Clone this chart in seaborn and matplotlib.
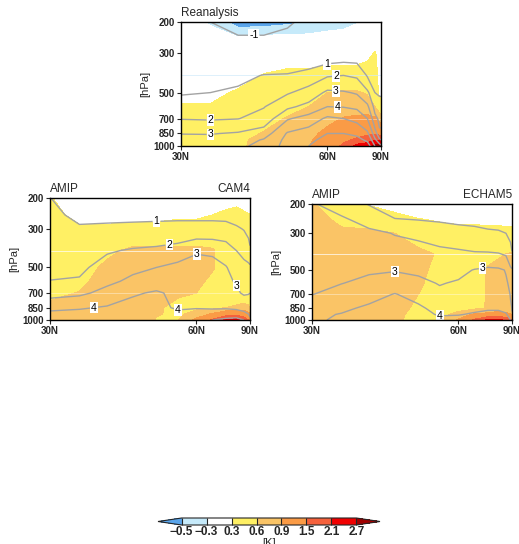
import numpy as np
import matplotlib
matplotlib.use("Agg")
import matplotlib.pyplot as plt
import seaborn as sns
from matplotlib.colors import ListedColormap, BoundaryNorm

sns.set_style("ticks")
plt.rcParams["font.family"] = ["Liberation Sans", "DejaVu Sans"]
plt.rcParams["axes.unicode_minus"] = True

# Grid: latitude (deg N) and pressure levels (hPa)
LAT = [30, 35, 40, 45, 50, 55, 60, 65, 70, 75, 80, 85, 90]
PLEV = [200, 250, 300, 400, 500, 600, 700, 850, 925, 1000]

# Shading levels [K] and colours
BOUNDS = [-0.5, -0.3, 0.3, 0.6, 0.9, 1.5, 2.1, 2.7]
FILL_COLORS = ["#c6eafa", "#ffffff", "#fff064", "#fac466", "#fa9b46", "#f5613c", "#f00000"]
UNDER_COLOR = "#5aa5eb"
OVER_COLOR = "#a00000"

# Each row: one latitude of LAT, values at PLEV
REA_SHADE = [
    [-0.10, 0.00, 0.05, 0.10, 0.20, 0.33, 0.40, 0.45, 0.45, 0.45],
    [-0.35, -0.10, 0.00, 0.10, 0.20, 0.33, 0.40, 0.45, 0.50, 0.50],
    [-0.60, -0.25, 0.00, 0.15, 0.35, 0.40, 0.45, 0.50, 0.55, 0.55],
    [-0.60, -0.20, 0.10, 0.32, 0.40, 0.45, 0.50, 0.62, 0.68, 0.70],
    [-0.55, -0.20, 0.10, 0.40, 0.45, 0.52, 0.62, 0.75, 0.80, 0.80],
    [-0.50, -0.20, 0.10, 0.40, 0.50, 0.60, 0.70, 0.80, 0.85, 0.88],
    [-0.45, -0.15, 0.15, 0.45, 0.60, 0.70, 0.80, 1.00, 1.10, 1.20],
    [-0.40, -0.15, 0.15, 0.45, 0.62, 0.75, 0.92, 1.20, 1.40, 1.60],
    [-0.32, -0.10, 0.15, 0.45, 0.62, 0.78, 0.95, 1.30, 1.60, 2.30],
    [-0.20, 0.00, 0.20, 0.50, 0.58, 0.70, 1.00, 1.40, 1.80, 2.50],
    [-0.10, 0.10, 0.33, 0.40, 0.40, 0.60, 0.95, 1.40, 2.00, 2.80],
    [0.00, 0.05, 0.15, 0.20, 0.25, 0.40, 0.80, 1.30, 2.10, 3.00],
    [0.00, 0.05, 0.10, 0.20, 0.25, 0.40, 0.70, 1.20, 2.00, 2.90],
]
REA_LINES = [
    [-0.8, -0.5, -0.2, 0.3, 0.9, 1.5, 1.95, 2.97, 3.3, 3.6],
    [-1.0, -0.6, -0.2, 0.4, 1.0, 1.5, 1.9, 2.95, 3.3, 3.6],
    [-1.3, -0.9, -0.3, 0.7, 1.2, 1.6, 1.97, 3.1, 3.5, 3.8],
    [-1.3, -0.9, -0.2, 1.05, 1.6, 1.95, 2.4, 3.5, 4.1, 4.3],
    [-1.1, -0.8, -0.1, 1.1, 1.9, 2.8, 3.9, 5.1, 5.3, 5.4],
    [-0.8, -0.5, 0.1, 1.4, 2.4, 3.3, 4.4, 5.5, 5.8, 6.0],
    [-0.5, -0.3, 0.3, 1.9, 3.2, 4.0, 5.2, 6.0, 6.3, 6.5],
    [-0.4, -0.2, 0.4, 2.0, 3.1, 3.95, 5.0, 6.0, 6.5, 6.8],
    [-0.3, -0.1, 0.4, 1.85, 2.9, 3.8, 4.7, 5.8, 6.3, 6.7],
    [-0.2, 0.0, 0.3, 0.9, 2.2, 3.2, 4.0, 5.2, 5.8, 6.5],
    [-0.1, 0.0, 0.2, 0.6, 1.0, 1.6, 2.3, 3.4, 4.2, 5.0],
    [0.0, 0.1, 0.2, 0.5, 0.9, 1.3, 1.7, 2.2, 3.2, 4.5],
    [0.0, 0.1, 0.2, 0.5, 0.9, 1.3, 1.7, 2.2, 3.0, 4.2],
]
CAM_SHADE = [
    [0.32, 0.40, 0.45, 0.45, 0.50, 0.50, 0.55, 0.65, 0.70, 0.70],
    [0.10, 0.20, 0.35, 0.45, 0.50, 0.55, 0.61, 0.70, 0.75, 0.75],
    [0.05, 0.20, 0.35, 0.55, 0.65, 0.70, 0.72, 0.75, 0.80, 0.80],
    [0.05, 0.20, 0.40, 0.65, 0.75, 0.80, 0.80, 0.80, 0.80, 0.80],
    [0.05, 0.20, 0.40, 0.65, 0.75, 0.75, 0.70, 0.65, 0.62, 0.58],
    [0.10, 0.25, 0.42, 0.65, 0.72, 0.70, 0.65, 0.50, 0.55, 0.58],
    [0.10, 0.25, 0.42, 0.65, 0.70, 0.65, 0.60, 0.55, 0.70, 1.00],
    [0.15, 0.30, 0.45, 0.62, 0.62, 0.55, 0.45, 0.50, 0.95, 1.60],
    [0.20, 0.35, 0.45, 0.50, 0.50, 0.45, 0.40, 0.60, 1.20, 2.20],
    [0.25, 0.35, 0.40, 0.45, 0.45, 0.40, 0.40, 0.65, 1.30, 2.30],
    [0.00, 0.40, 0.42, 0.42, 0.42, 0.40, 0.40, 0.70, 1.20, 1.80],
    [-0.32, 0.36, 0.38, 0.40, 0.40, 0.38, 0.38, 0.65, 1.00, 1.50],
    [-0.40, 0.35, 0.35, 0.38, 0.38, 0.35, 0.35, 0.60, 0.90, 1.30],
]
CAM_LINES = [
    [1.02, 1.2, 1.35, 1.6, 1.8, 2.02, 2.6, 3.8, 4.2, 4.4],
    [0.4, 0.8, 1.1, 1.5, 1.8, 2.1, 2.8, 3.9, 4.3, 4.5],
    [0.3, 0.8, 1.15, 1.9, 2.4, 2.8, 3.3, 4.1, 4.3, 4.5],
    [0.3, 0.8, 1.2, 2.1, 2.8, 3.2, 3.9, 4.3, 4.5, 4.7],
    [0.3, 0.8, 1.25, 2.2, 3.0, 3.6, 4.1, 4.2, 4.3, 4.4],
    [0.3, 0.8, 1.3, 2.4, 3.3, 3.7, 3.8, 3.9, 4.2, 4.5],
    [0.3, 0.8, 1.3, 2.9, 3.4, 3.6, 3.7, 3.95, 4.3, 4.8],
    [0.3, 0.8, 1.3, 2.85, 3.3, 3.4, 3.4, 3.9, 4.4, 5.0],
    [0.3, 0.8, 1.25, 2.6, 3.05, 3.1, 3.05, 3.9, 4.5, 5.2],
    [0.3, 0.7, 1.1, 2.0, 2.6, 2.95, 3.1, 3.8, 4.5, 5.3],
    [0.3, 0.6, 0.95, 1.7, 2.3, 2.6, 2.9, 3.6, 4.3, 5.0],
    [0.3, 0.55, 0.8, 1.3, 2.3, 2.75, 2.95, 3.5, 4.0, 4.6],
    [0.3, 0.5, 0.7, 1.1, 2.2, 2.7, 3.0, 3.4, 3.8, 4.2],
]
ECH_SHADE = [
    [0.62, 0.70, 0.75, 0.80, 0.80, 0.80, 0.80, 0.80, 0.80, 0.80],
    [0.45, 0.55, 0.65, 0.75, 0.80, 0.80, 0.80, 0.80, 0.80, 0.80],
    [0.28, 0.50, 0.65, 0.72, 0.78, 0.78, 0.78, 0.75, 0.75, 0.75],
    [0.20, 0.40, 0.60, 0.70, 0.72, 0.72, 0.70, 0.68, 0.66, 0.65],
    [0.15, 0.32, 0.50, 0.65, 0.68, 0.65, 0.60, 0.55, 0.52, 0.50],
    [0.10, 0.28, 0.42, 0.58, 0.50, 0.45, 0.42, 0.45, 0.50, 0.55],
    [0.05, 0.25, 0.40, 0.45, 0.45, 0.42, 0.42, 0.50, 0.70, 0.95],
    [0.05, 0.25, 0.40, 0.45, 0.50, 0.52, 0.50, 0.55, 0.95, 1.60],
    [0.10, 0.25, 0.38, 0.55, 0.62, 0.62, 0.62, 0.62, 1.00, 2.20],
    [0.10, 0.25, 0.38, 0.58, 0.65, 0.65, 0.65, 0.68, 1.10, 2.30],
    [0.10, 0.25, 0.35, 0.60, 0.66, 0.66, 0.66, 0.68, 1.00, 1.90],
    [0.15, 0.25, 0.35, 0.62, 0.66, 0.66, 0.66, 0.65, 0.92, 1.60],
    [0.15, 0.25, 0.35, 0.62, 0.66, 0.65, 0.65, 0.63, 0.85, 1.30],
]
ECH_LINES = [
    [2.1, 2.3, 2.5, 2.7, 2.85, 2.95, 2.98, 3.4, 3.8, 3.9],
    [1.5, 2.2, 2.45, 2.65, 2.85, 2.98, 3.3, 3.8, 4.05, 4.1],
    [0.95, 1.6, 2.25, 2.6, 2.9, 3.2, 3.6, 4.2, 4.3, 4.3],
    [0.6, 1.05, 1.95, 2.5, 2.95, 3.4, 4.05, 4.4, 4.45, 4.4],
    [0.5, 1.0, 1.8, 2.4, 2.85, 3.2, 3.6, 4.2, 4.3, 4.3],
    [0.45, 0.9, 1.6, 2.25, 2.65, 2.95, 3.2, 3.6, 3.9, 4.3],
    [0.4, 0.8, 1.4, 2.2, 2.75, 3.1, 3.3, 3.7, 3.95, 4.3],
    [0.4, 0.75, 1.3, 2.1, 3.05, 3.3, 3.5, 3.8, 4.1, 4.5],
    [0.35, 0.7, 1.15, 2.1, 3.2, 3.4, 3.6, 3.9, 4.2, 4.6],
    [0.35, 0.7, 1.1, 2.05, 3.15, 3.35, 3.5, 3.9, 4.2, 4.6],
    [0.3, 0.65, 1.0, 1.9, 2.95, 3.1, 3.3, 3.7, 4.1, 4.5],
    [0.3, 0.55, 0.8, 1.3, 2.2, 2.8, 2.95, 3.1, 3.5, 4.0],
    [0.3, 0.5, 0.7, 1.05, 2.1, 2.6, 2.8, 2.95, 3.05, 3.3],
]

REA_LINE_LEVELS = [-1, 1, 2, 3, 4, 5, 6]
CAM_LINE_LEVELS = [1, 2, 3, 4, 5]
ECH_LINE_LEVELS = [1, 2, 3, 4]

# Where the contour labels sit (lat, hPa)
REA_LABEL_AT = [(43, 240), (60, 350), (62.6, 408), (35, 732), (62.6, 477), (35, 868), (63, 612)]
CAM_LABEL_AT = [(50, 274), (52.7, 335), (60.2, 413), (77.8, 614), (37.6, 866), (55.1, 866)]
ECH_LABEL_AT = [(45, 514), (67.7, 466), (55.1, 947)]

P_TICKS = [200, 300, 500, 700, 850, 1000]
LAT_TICKS = [30, 60, 90]
LAT_TICKLABELS = ["30N", "60N", "90N"]

palette = sns.color_palette(FILL_COLORS)
cmap = ListedColormap(palette)
cmap.set_under(UNDER_COLOR)
cmap.set_over(OVER_COLOR)
norm = BoundaryNorm(BOUNDS, cmap.N)


def sin_fwd(x):
    return np.sin(np.deg2rad(np.asarray(x, dtype=float)))


def sin_inv(y):
    return np.rad2deg(np.arcsin(np.clip(np.asarray(y, dtype=float), -1, 1)))


def draw_panel(ax, shade, lines, line_levels, label_at, seam_color):
    lat = np.array(LAT, dtype=float)
    plev = np.array(PLEV, dtype=float)
    z_fill = np.array(shade).T
    z_line = np.array(lines).T
    ax.set_xscale("function", functions=(sin_fwd, sin_inv))
    ax.set_yscale("log")
    cf = ax.contourf(lat, plev, z_fill, levels=BOUNDS, cmap=cmap, norm=norm, extend="both")
    ax.axhline(400, color=seam_color, lw=0.7, alpha=0.7, zorder=2)
    ax.axhline(700, color="white", lw=0.6, alpha=0.45, zorder=2)
    cs = ax.contour(lat, plev, z_line, levels=line_levels, colors="#a3a3a3", linewidths=1.0,
                    linestyles="solid", zorder=3)
    texts = ax.clabel(cs, levels=line_levels, manual=label_at, inline=True, inline_spacing=1,
                      fmt="%d", fontsize=7.5, colors="black")
    for t in texts:
        t.set_rotation(0)
        t.set_bbox(dict(boxstyle="square,pad=0.08", fc="white", ec="none"))
        t.set_zorder(5)
    ax.set_xlim(30, 90)
    ax.set_ylim(1000, 200)
    ax.set_xticks(LAT_TICKS)
    ax.set_xticklabels(LAT_TICKLABELS)
    ax.set_yticks(P_TICKS)
    ax.set_yticklabels([str(p) for p in P_TICKS])
    ax.yaxis.set_minor_locator(matplotlib.ticker.NullLocator())
    ax.xaxis.set_minor_locator(matplotlib.ticker.NullLocator())
    ax.tick_params(direction="out", length=3, width=0.8, labelsize=7, pad=1.5)
    for lab in ax.get_xticklabels() + ax.get_yticklabels():
        lab.set_fontweight("bold")
    for sp in ax.spines.values():
        sp.set_linewidth(1.0)
        sp.set_color("black")
        sp.set_zorder(6)
    ax.set_ylabel("[hPa]", fontsize=8, labelpad=2)
    return cf


W, H = 519, 544
fig = plt.figure(figsize=(W / 100, H / 100), dpi=100)


def px_axes(x0, y0, x1, y1):
    return fig.add_axes([x0 / W, 1 - y1 / H, (x1 - x0) / W, (y1 - y0) / H])


ax_rea = px_axes(181, 22, 381, 146)
ax_cam = px_axes(50, 198, 250, 320)
ax_ech = px_axes(312, 204, 512, 320)

cf = draw_panel(ax_rea, REA_SHADE, REA_LINES, REA_LINE_LEVELS, REA_LABEL_AT, "#cfe9fa")
draw_panel(ax_cam, CAM_SHADE, CAM_LINES, CAM_LINE_LEVELS, CAM_LABEL_AT, "white")
draw_panel(ax_ech, ECH_SHADE, ECH_LINES, ECH_LINE_LEVELS, ECH_LABEL_AT, "white")

ax_rea.set_title("Reanalysis", loc="left", fontsize=8.5, pad=4)
ax_cam.set_title("AMIP", loc="left", fontsize=8.5, pad=4)
ax_cam.set_title("CAM4", loc="right", fontsize=8.5, pad=4)
ax_ech.set_title("AMIP", loc="left", fontsize=8.5, pad=4)
ax_ech.set_title("ECHAM5", loc="right", fontsize=8.5, pad=4)

cax = px_axes(158, 518, 380, 525)
cb = fig.colorbar(cf, cax=cax, orientation="horizontal", ticks=BOUNDS, drawedges=True,
                  extendfrac=0.135)
cb.outline.set_linewidth(0.8)
cb.dividers.set_linewidth(0.8)
cb.ax.tick_params(length=0, labelsize=8.5, pad=0.5)
for lab in cb.ax.get_xticklabels():
    lab.set_fontweight("bold")
cb.set_label("[K]", fontsize=8, labelpad=0)

fig.savefig("out.png", dpi=100)
